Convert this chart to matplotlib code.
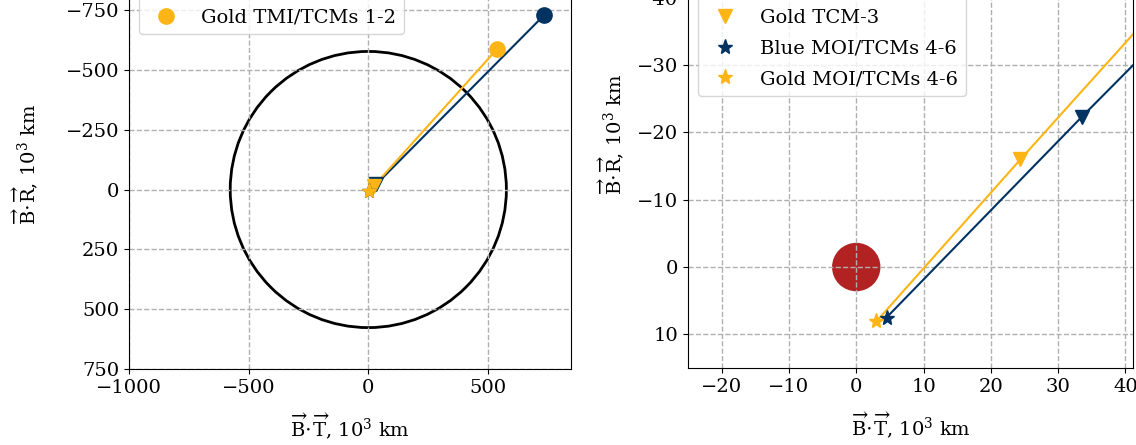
import matplotlib
matplotlib.use("Agg")
import matplotlib.pyplot as plt
from matplotlib.patches import Circle

plt.rcParams['font.family'] = ['DejaVu Serif']
plt.rcParams['mathtext.fontset'] = 'dejavuserif'

# Data (10^3 km), B-plane coordinates (B.T, B.R)
blue_tmi = (734, -728)
gold_tmi = (539, -588)
blue_tcm3 = (33.5, -22.3)
gold_tcm3 = (24.4, -16.0)
blue_moi = (4.5, 7.5)
gold_moi = (3.0, 8.07)
soi_radius = 577.0
mars_radius = 3.3895

blue = '#003262'
gold = '#FDB515'
red = '#B22222'

W, H = 1136, 445
fig = plt.figure(figsize=(W / 100, H / 100), dpi=100)

def add_axes_px(left_px, bottom_px, xlim, ylim, scale):
    width = (xlim[1] - xlim[0]) * scale
    height = abs(ylim[0] - ylim[1]) * scale
    ax = fig.add_axes([left_px / W, (H - bottom_px) / H, width / W, height / H])
    ax.set_xlim(*xlim)
    ax.set_ylim(*ylim)
    return ax

xlab = r'$\overrightarrow{\mathrm{B}}\!\cdot\!\overrightarrow{\mathrm{T}}$, $10^3$ km'
ylab = r'$\overrightarrow{\mathrm{B}}\!\cdot\!\overrightarrow{\mathrm{R}}$, $10^3$ km'

def draw(ax, legend_labels, ylabelpad):
    lw = 1.5
    ax.plot([blue_tmi[0], blue_tcm3[0], blue_moi[0]], [blue_tmi[1], blue_tcm3[1], blue_moi[1]],
            color=blue, lw=lw)
    ax.plot([gold_tmi[0], gold_tcm3[0], gold_moi[0]], [gold_tmi[1], gold_tcm3[1], gold_moi[1]],
            color=gold, lw=lw)
    h = {}
    h['Blue TMI/TCMs 1-2'], = ax.plot(*blue_tmi, 'o', color=blue, ms=11, ls='none')
    h['Gold TMI/TCMs 1-2'], = ax.plot(*gold_tmi, 'o', color=gold, ms=11, ls='none')
    h['Blue TCM-3'], = ax.plot(*blue_tcm3, 'v', color=blue, ms=10, ls='none')
    h['Gold TCM-3'], = ax.plot(*gold_tcm3, 'v', color=gold, ms=10, ls='none')
    h['Blue MOI/TCMs 4-6'], = ax.plot(*blue_moi, '*', color=blue, ms=11, ls='none')
    h['Gold MOI/TCMs 4-6'], = ax.plot(*gold_moi, '*', color=gold, ms=11, ls='none')
    ax.grid(True, ls='--', color='#b0b0b0', lw=1)
    ax.tick_params(labelsize=14)
    ax.set_xlabel(xlab, fontsize=14, labelpad=10)
    ax.set_ylabel(ylab, fontsize=14, labelpad=ylabelpad)
    ax.legend([h[k] for k in legend_labels], legend_labels, loc='upper left', fontsize=14,
              labelspacing=0.65)

# Left panel
ax1 = add_axes_px(129, 369, (-1000, 848), (750, -958), 0.2393)
ax1.add_patch(Circle((0, 0), soi_radius, fill=False, edgecolor='black', lw=2))
draw(ax1, ['Blue TMI/TCMs 1-2', 'Gold TMI/TCMs 1-2'], 18.5)
ax1.set_xticks([-1000, -500, 0, 500])
ax1.set_yticks([-750, -500, -250, 0, 250, 500, 750])

# Right panel
ax2 = add_axes_px(688, 368, (-25, 41.1), (15, -54.6), 6.73)
ax2.add_patch(Circle((0, 0), mars_radius, facecolor=red, edgecolor=red, lw=2))
draw(ax2, ['Blue TMI/TCMs 1-2', 'Gold TMI/TCMs 1-2', 'Blue TCM-3', 'Gold TCM-3',
           'Blue MOI/TCMs 4-6', 'Gold MOI/TCMs 4-6'], 8)
ax2.set_xticks([-20, -10, 0, 10, 20, 30, 40])
ax2.set_yticks([-50, -40, -30, -20, -10, 0, 10])

fig.savefig('out.png', dpi=100)
